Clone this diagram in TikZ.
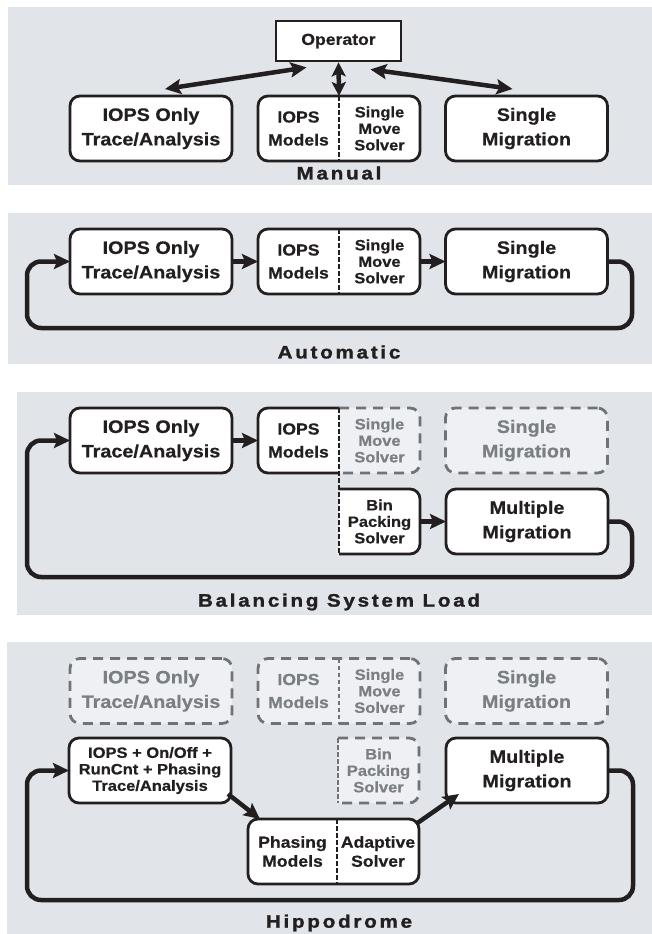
\documentclass[tikz,border=0pt]{standalone}
\usepackage{fontspec}
\setmainfont{Liberation Sans}[FakeStretch=1.1,BoldFeatures={FakeBold=0.6}]
\newfontfamily\titlefont{Liberation Sans}[FakeStretch=1.15,LetterSpace=15,BoldFeatures={FakeBold=1.4}]
\usetikzlibrary{arrows.meta}
\definecolor{panelgray}{RGB}{225,228,233}
\definecolor{ghostfill}{RGB}{238,240,243}
\definecolor{ghostgray}{RGB}{110,115,120}
\definecolor{ghosttext}{RGB}{122,127,132}
\definecolor{inkblack}{RGB}{35,31,32}
\newcommand\boxfont{\fontsize{18}{24.5}\selectfont\bfseries}
\newcommand\halffont{\fontsize{16}{23}\selectfont\bfseries}
\newcommand\stackfont{\fontsize{15}{16.5}\selectfont\bfseries}
\newcommand\pairfont{\fontsize{16}{19}\selectfont\bfseries}
\newcommand\opfont{\fontsize{16}{19}\selectfont\bfseries}
\newcommand\titlesize{\titlefont\fontsize{18}{20}\selectfont\bfseries}
\tikzset{>={Stealth[length=16pt,width=15pt,inset=3pt]}}
\tikzset{
  unit/.style={draw=inkblack, line width=2.8pt, rounded corners=10pt, fill=white,
    minimum width=162pt, minimum height=65pt, inner sep=0pt, outer sep=0pt,
    align=center, text=inkblack, font=\boxfont},
  ghost/.style={unit, draw=ghostgray, dash pattern=on 10pt off 7pt, fill=ghostfill, text=ghosttext},
  boxframe/.style={minimum width=162pt, minimum height=65pt, inner sep=0pt, outer sep=0pt},
  half/.style={inner sep=0pt, align=center, text=inkblack, font=\halffont},
  opbox/.style={draw=inkblack, line width=2.8pt, fill=white, minimum width=125pt,
    minimum height=40pt, font=\opfont, text=inkblack},
  unitedge/.style={draw=inkblack, line width=2.8pt, rounded corners=10pt},
  ghostedge/.style={draw=ghostgray, line width=2.8pt, rounded corners=10pt, dash pattern=on 10pt off 7pt},
  divider/.style={draw=inkblack, line width=1.2pt, dash pattern=on 4.5pt off 2.5pt},
  flow/.style={->, draw=inkblack, line width=4.5pt},
  feedback/.style={flow, rounded corners=14pt},
  paneltitle/.style={font=\titlesize, text=inkblack, inner sep=0pt},
}
\begin{document}
\begin{tikzpicture}[x=1pt, y=-1pt]
    \useasboundingbox (0,0) rectangle (652,934);
    \fill[panelgray] (8,7) rectangle (652,185);
    \fill[panelgray] (8,213) rectangle (652,364);
    \fill[panelgray] (17,392) rectangle (652,615);
    \fill[panelgray] (7,642) rectangle (652,934);

    % Manual
    \node[opbox] (op) at (338.5,41) {Operator};
    \node[unit] (t1) at (151,128.5) {IOPS Only\\Trace/Analysis};
    \node[unit] (m1) at (339,128.5) {};
    \node[half] (m1a) at (298.5,128.5) {IOPS\\Models};
    \node[half, font=\stackfont] (m1b) at (379.5,128.5) {Single\\Move\\Solver};
    \draw[divider] (m1.north) -- (m1.south);
    \node[unit] (s1) at (526.5,128.5) {Single\\Migration};
    \draw[flow, <->] ([shift={(-32,5)}]op.south) -- ([shift={(14,-7)}]t1.north);
    \draw[flow, <->, >={Stealth[length=14pt,width=14pt,inset=3pt]}] (op.south) -- (m1.north);
    \draw[flow, <->] ([shift={(32,7)}]op.south) -- ([shift={(-14,-7)}]s1.north);
    \node[paneltitle] (lman) at (339,173) {Manual};

    % Automatic
    \node[unit] (t2) at (151,261.5) {IOPS Only\\Trace/Analysis};
    \node[unit] (m2) at (339,261.5) {};
    \node[half] (m2a) at (298.5,261.5) {IOPS\\Models};
    \node[half, font=\stackfont] (m2b) at (379.5,261.5) {Single\\Move\\Solver};
    \draw[divider] (m2.north) -- (m2.south);
    \node[unit] (s2) at (526.5,261.5) {Single\\Migration};
    \draw[flow] (t2) -- (m2);
    \draw[flow] (m2) -- (s2);
    \draw[feedback] (s2.east) -| (632,328) -| (27,261.5) -- (t2.west);
    \node[paneltitle] (lauto) at (339,352) {Automatic};

    % Balancing System Load
    \node[unit] (t3) at (151,440.5) {IOPS Only\\Trace/Analysis};
    \node[boxframe] (m3) at (339,440.5) {};
    \filldraw[unitedge, fill=white] (m3.north) -- (m3.north west) -- (m3.south west) -- (m3.south);
    \filldraw[ghostedge, fill=ghostfill] (m3.north) -- (m3.north east) -- (m3.south east) -- (m3.south);
    \node[half] (m3a) at (298.5,440.5) {IOPS\\Models};
    \node[half, font=\stackfont, text=ghosttext] (m3b) at (379.5,440.5) {Single\\Move\\Solver};
    \node[ghost] (s3) at (526.5,440.5) {Single\\Migration};
    \node[boxframe, minimum width=81pt] (b3) at (379.5,521.5) {};
    \filldraw[unitedge, fill=white] (b3.north west) -- (b3.north east) -- (b3.south east) -- (b3.south west);
    \node[half, font=\stackfont] (b3a) at (b3.center) {Bin\\Packing\\Solver};
    \draw[divider] (m3.north) -- (m3.north |- b3.south);
    \node[unit] (mm3) at (527,521.5) {Multiple\\Migration};
    \draw[flow] (t3) -- (m3.west);
    \draw[flow] (b3.east) -- (mm3);
    \draw[feedback] (mm3.east) -| (632,577) -| (27,440.5) -- (t3.west);
    \node[paneltitle] (lbal) at (339,602) {Balancing System Load};

    % Hippodrome
    \node[ghost] (g4t) at (151,691) {IOPS Only\\Trace/Analysis};
    \node[ghost] (g4m) at (339,691) {};
    \node[half, text=ghosttext] (g4ma) at (298.5,691) {IOPS\\Models};
    \node[half, font=\stackfont, text=ghosttext] (g4mb) at (379.5,691) {Single\\Move\\Solver};
    \draw[divider, draw=ghostgray] (g4m.north) -- (g4m.south);
    \node[ghost] (g4s) at (526.5,691) {Single\\Migration};
    \node[unit, font=\stackfont] (t4) at (150,770.5) {IOPS + On/Off +\\RunCnt + Phasing\\Trace/Analysis};
    \node[boxframe, minimum width=81pt] (b4) at (378.5,770.5) {};
    \filldraw[ghostedge, fill=ghostfill] (b4.north west) -- (b4.north east) -- (b4.south east) -- (b4.south west);
    \draw[divider, draw=ghostgray] (b4.north west) -- (b4.south west);
    \node[half, font=\stackfont, text=ghosttext] (b4a) at (b4.center) {Bin\\Packing\\Solver};
    \node[unit] (mm4) at (527,770.5) {Multiple\\Migration};
    \node[unit, minimum width=171pt] (p4) at (333.5,851.5) {};
    \node[half, font=\pairfont] (p4a) at (292.5,851.5) {Phasing\\Models};
    \node[half, font=\pairfont] (p4b) at (378,851.5) {Adaptive\\Solver};
    \draw[divider] ([xshift=3.5pt]p4.north) -- ([xshift=3.5pt]p4.south);
    \draw[flow] ([shift={(-3,-9)}]t4.south east) -- ([shift={(12,0)}]p4.north west);
    \draw[flow] ([shift={(-3,5)}]p4.north east) -- ([shift={(13,-9)}]mm4.south west);
    \draw[feedback] (mm4.east) -| (633,900) -| (27,770.5) -- (t4.west);
    \node[paneltitle] (lhip) at (339,923) {Hippodrome};
\end{tikzpicture}
\end{document}
